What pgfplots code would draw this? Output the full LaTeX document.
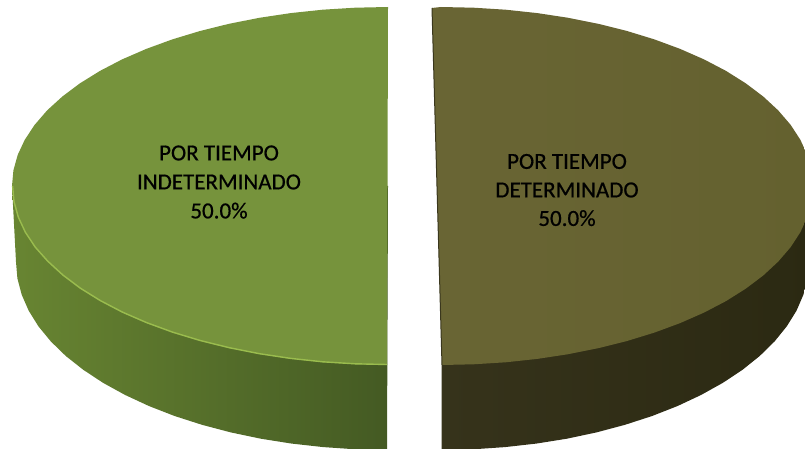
\documentclass[border=0pt]{standalone}
\usepackage{fontspec}
\setmainfont{Carlito}
\newfontfamily\labelfont[FakeBold=0.6]{Carlito}
\usepackage{pgfplots}
\pgfplotsset{compat=1.18}
\definecolor{lefttop}{HTML}{76933C}
\definecolor{leftrim}{HTML}{9ABC4E}
\definecolor{sidea}{HTML}{688532}
\definecolor{sideb}{HTML}{5A732B}
\definecolor{sidec}{HTML}{445A23}
\definecolor{righttopa}{HTML}{696534}
\definecolor{righttopb}{HTML}{64612F}
\definecolor{rsidea}{HTML}{36331B}
\definecolor{rsideb}{HTML}{2D2B14}
\definecolor{rsidec}{HTML}{2B2912}
\definecolor{redge}{HTML}{3A371D}
\begin{document}
\begin{tikzpicture}
\begin{axis}[
  width=805pt, height=449pt, scale only axis, hide axis,
  xmin=0, xmax=805, ymin=0, ymax=449, y dir=reverse,
  clip=true]
% left slice, side wall
\addplot[draw=none, left color=sidea, middle color=sideb, right color=sidec] coordinates {
  (12,186) (16,262) (17.4,278.4) (21.7,294.7) (28.7,310.7) (38.4,326.3) (50.9,341.5) (65.8,356)
  (83.3,369.8) (103,382.8) (125,394.9) (148.9,406) (174.6,416) (202,424.8) (230.8,432.4)
  (260.8,438.7) (291.7,443.6) (323.4,447.1) (355.6,449.3) (387,450) (388,186)};
% left slice, top face
\addplot[draw=none, fill=lefttop] coordinates {
  (388,7) (355.2,7.7) (322.7,9.7) (290.7,13.1) (259.4,17.8) (229.1,23.8) (200,31) (172.3,39.4)
  (146.3,48.9) (122.1,59.4) (100,70.9) (80,83.3) (62.4,96.5) (47.2,110.3) (34.7,124.8) (24.8,139.7)
  (17.7,154.9) (13.4,170.4) (12,186) (13.4,201.6) (17.7,217.1) (24.8,232.3) (34.7,247.2) (47.2,261.7)
  (62.4,275.5) (80,288.7) (100,301.1) (122.1,312.6) (146.3,323.1) (172.3,332.6) (200,341) (229.1,348.2)
  (259.4,354.2) (290.7,358.9) (322.7,362.3) (355.2,364.3) (387,365)};
% rim of the left slice
\addplot[leftrim, line width=1.4pt] coordinates {
  (12.6,186) (14,201.6) (18.3,217.1) (25.4,232.3) (35.3,247.2) (47.8,261.2)
  (62.9,275) (80.4,288.2) (100.4,300.6) (122.4,312.1) (146.6,322.6) (172.5,332.1) (200.2,340.5) (229.3,347.7)
  (259.5,353.7) (290.8,358.4) (322.8,361.8) (355.2,363.8) (387,364.5)};
% right slice, side wall
\addplot[draw=none, left color=rsidea, middle color=rsideb, right color=rsidec] coordinates {
  (813,186) (809,262) (807.6,278.4) (803.4,294.7) (796.5,310.7) (786.8,326.3) (774.5,341.5) (759.7,356)
  (742.5,369.8) (722.9,382.8) (701.2,394.9) (677.6,406) (652.1,416) (625,424.8) (596.5,432.4)
  (566.9,438.7) (536.2,443.6) (504.9,447.1) (473.1,449.3) (442,450) (442,186)};
% right slice, top face
\addplot[draw=none, left color=righttopa, right color=righttopb] coordinates {
  (432,8) (441,7) (473.4,7.7) (505.6,9.7) (537.3,13.1) (568.2,17.8) (598.2,23.8) (627,31) (654.4,39.4)
  (680.1,48.9) (704,59.4) (726,70.9) (745.7,83.3) (763.2,96.5) (778.1,110.3) (790.6,124.8) (800.3,139.7)
  (807.3,154.9) (811.6,170.4) (813,186) (811.6,201.6) (807.3,217.1) (800.3,232.3) (790.6,247.2) (778.1,261.7)
  (763.2,275.5) (745.7,288.7) (726,301.1) (704,312.6) (680.1,323.1) (654.4,332.6) (627,341) (598.2,348.2)
  (568.2,354.2) (537.3,358.9) (505.6,362.3) (473.4,364.3) (442,365)};
% dark cut edge
\addplot[redge, line width=1pt] coordinates {(432,8) (442,365) (442,449)};
\node[align=center, text=black, font=\labelfont\fontsize{23}{29}\selectfont] at (axis cs:219,182)
  {POR TIEMPO\\INDETERMINADO\\50.0\%};
\node[align=center, text=black, font=\labelfont\fontsize{23}{28.5}\selectfont] at (axis cs:567,190)
  {POR TIEMPO\\DETERMINADO\\50.0\%};
\end{axis}
\pgfresetboundingbox
\path[use as bounding box] (0,0) rectangle (805pt,449pt);
\end{tikzpicture}
\end{document}
